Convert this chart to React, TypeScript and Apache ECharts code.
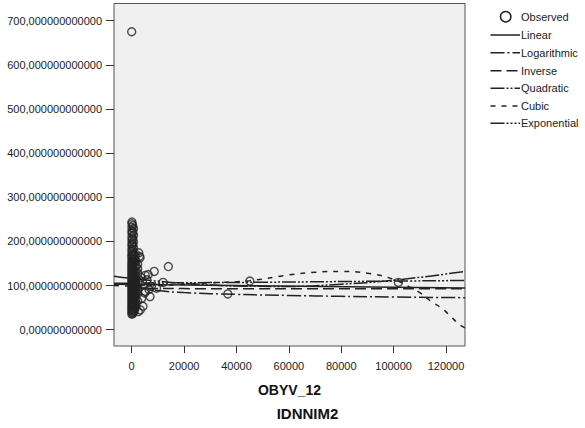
import React, { useEffect, useRef } from "react";
import * as echarts from "echarts";

const yTicks = [0, 100, 200, 300, 400, 500, 600, 700];
const xTicks = [0, 20000, 40000, 60000, 80000, 100000, 120000];
const xAxisTitle = "OBYV_12";
const chartTitle = "IDNNIM2";
const legendNames = ["Observed", "Linear", "Logarithmic", "Inverse", "Quadratic", "Cubic", "Exponential"];

// Observed points (x, y)
const observed: [number, number][] = [
  [0, 675],
  [100, 244], [100, 240], [100, 232], [100, 224], [100, 218], [100, 210], [100, 203], [100, 196],
  [100, 190], [100, 183], [100, 177], [100, 171], [100, 166], [100, 161], [100, 156], [100, 151],
  [100, 147], [100, 143], [100, 139], [100, 135], [100, 131], [100, 127], [100, 123], [100, 119],
  [100, 115], [100, 111], [100, 107], [100, 103], [100, 99], [100, 95], [100, 91], [100, 87],
  [100, 83], [100, 79], [100, 75], [100, 71], [100, 67], [100, 63], [100, 59], [100, 55],
  [100, 51], [100, 47], [100, 43], [100, 39], [100, 35],
  [400, 236], [400, 221], [400, 206], [400, 193], [400, 180], [400, 168], [400, 155], [400, 146],
  [400, 133], [400, 124], [400, 113], [400, 102], [400, 93], [400, 85], [400, 77], [400, 68],
  [400, 59], [400, 52], [400, 44], [400, 37],
  [700, 229], [700, 214], [700, 199], [700, 186], [700, 172], [700, 158], [700, 149], [700, 137],
  [700, 128], [700, 117], [700, 108], [700, 98], [700, 89], [700, 80], [700, 72], [700, 63],
  [700, 56], [700, 48], [700, 40],
  [1100, 168], [1100, 160], [1100, 152], [1100, 141], [1100, 133], [1100, 121], [1100, 112], [1100, 104],
  [1100, 93], [1100, 84], [1100, 76], [1100, 66], [1100, 58], [1100, 49], [1100, 43],
  [1600, 171], [1600, 156], [1600, 130], [1600, 119], [1600, 101], [1600, 94], [1600, 86],
  [1600, 70], [1600, 61], [1600, 52], [1600, 145], [1600, 112], [1600, 78],
  [2300, 148], [2300, 128], [2300, 109], [2300, 96], [2300, 82], [2300, 65], [2300, 138], [2300, 90],
  [2700, 174], [2900, 166], [3200, 163], [5200, 123], [5800, 113], [6300, 125], [7500, 98],
  [6600, 91], [5200, 87], [5000, 83], [7000, 75], [4300, 53], [3300, 45], [2500, 41],
  [8600, 132], [12000, 107], [14000, 143], [4100, 109], [3600, 118], [9500, 94], [3800, 71],
  [36700, 81], [45100, 110], [101800, 107],
];

// Fitted curves (x, y)
const linearFit: [number, number][] = [[-6750, 103], [127250, 94.5]];
const logFit: [number, number][] = [
  [1000, 103], [2000, 99], [5000, 93], [10000, 88.5], [20000, 84], [40000, 80],
  [60000, 77.5], [80000, 75.5], [100000, 74], [127250, 72.5],
];
const inverseFit: [number, number][] = [
  [500, 105], [1000, 99], [2000, 96], [5000, 94], [20000, 93], [127250, 92.5],
];
const quadraticFit: [number, number][] = [
  [-6750, 121], [0, 116], [10000, 110], [20000, 105], [40000, 99], [60000, 98],
  [80000, 103], [100000, 112], [127250, 132],
];
const cubicFit: [number, number][] = [
  [-6750, 100], [0, 99], [10000, 100], [20000, 103], [30000, 106], [45000, 111],
  [60000, 124], [70000, 130], [80000, 132], [90000, 128], [100000, 114], [106000, 97],
  [110000, 84], [114300, 64], [118000, 50], [121500, 32], [125000, 12], [127250, 4],
];
const expFit: [number, number][] = [
  [-6750, 105], [0, 105.5], [40000, 107], [80000, 109], [127250, 111.5],
];

const FONT = "'Liberation Sans', Arial, sans-serif";
const INK = "#222";

const dashes: Record<string, number[] | "solid"> = {
  Linear: "solid",
  Logarithmic: [14, 3, 2, 3],
  Inverse: [11, 5],
  Quadratic: [14, 2, 2, 2, 2, 2],
  Cubic: [5, 6],
  Exponential: [14, 2, 2, 2, 2, 2, 2, 2],
};

export default function App() {
  const ref = useRef<HTMLDivElement>(null);
  useEffect(() => {
    document.body.style.margin = "0";
    const chart = echarts.init(ref.current!, undefined, { renderer: "svg" });

    const fits: [string, [number, number][], boolean][] = [
      ["Linear", linearFit, false],
      ["Logarithmic", logFit, true],
      ["Inverse", inverseFit, true],
      ["Quadratic", quadraticFit, true],
      ["Cubic", cubicFit, true],
      ["Exponential", expFit, true],
    ];

    const legendY = [16.7, 35, 52.7, 70.7, 88.3, 106, 123.3];
    const graphics: any[] = [];
    legendNames.forEach((name, i) => {
      const y = legendY[i];
      if (i === 0) {
        graphics.push({
          type: "circle",
          shape: { cx: 505.7, cy: y, r: 5.2 },
          style: { fill: "none", stroke: INK, lineWidth: 1.5 },
        });
      } else {
        const d = dashes[name];
        graphics.push({
          type: "line",
          shape: { x1: 490.5, y1: y, x2: 520, y2: y },
          style: { stroke: INK, lineWidth: 1.5, lineDash: d === "solid" ? null : d },
        });
      }
      graphics.push({
        type: "text",
        x: 521,
        y,
        style: { text: name, fill: INK, font: `11px ${FONT}`, textVerticalAlign: "middle" },
      });
    });
    graphics.push({
      type: "text",
      x: 289.5,
      y: 390,
      style: {
        text: xAxisTitle, fill: "#111", font: `bold 14px ${FONT}`,
        textAlign: "center", textVerticalAlign: "middle",
      },
    });
    graphics.push({
      type: "text",
      x: 307.5,
      y: 413,
      style: {
        text: chartTitle, fill: "#111", font: `bold 15px ${FONT}`,
        textAlign: "center", textVerticalAlign: "middle",
      },
    });

    chart.setOption({
      animation: false,
      backgroundColor: "#ffffff",
      grid: {
        left: 114, top: 3.5, right: 120, bottom: 82,
        show: true, backgroundColor: "#f0f0f0", borderColor: "#555", borderWidth: 1,
      },
      xAxis: {
        type: "value",
        min: -6750,
        max: 127250,
        splitLine: { show: false },
        axisLine: { show: false, onZero: false },
        axisTick: {
          show: true, inside: false, length: 7, customValues: xTicks,
          lineStyle: { color: "#333", width: 1 },
        },
        axisLabel: {
          customValues: xTicks, color: INK, fontFamily: FONT, fontSize: 11, margin: 14,
          formatter: (v: number) => String(v),
        },
      },
      yAxis: {
        type: "value",
        min: -37,
        max: 739,
        splitLine: { show: false },
        axisLine: { show: false, onZero: false },
        axisTick: {
          show: true, inside: false, length: 8, customValues: yTicks,
          lineStyle: { color: "#333", width: 1 },
        },
        axisLabel: {
          customValues: yTicks, color: INK, fontFamily: FONT, fontSize: 11, margin: 12,
          formatter: (v: number) => v.toFixed(12).replace(".", ","),
        },
      },
      graphic: graphics,
      series: [
        {
          name: "Observed",
          type: "scatter",
          data: observed,
          symbol: "circle",
          symbolSize: 8,
          itemStyle: { color: "rgba(0,0,0,0)", borderColor: INK, borderWidth: 1.4 },
          z: 3,
        },
        ...fits.map(([name, data, smooth]) => ({
          name,
          type: "line",
          data,
          smooth,
          symbol: "none",
          lineStyle: { color: INK, width: 1.5, type: dashes[name] },
          z: 2,
        })),
      ],
    });
    return () => chart.dispose();
  }, []);
  return (
    <div
      ref={ref}
      style={{ position: "fixed", left: 0, top: 0, width: 585, height: 428 }}
    />
  );
}
